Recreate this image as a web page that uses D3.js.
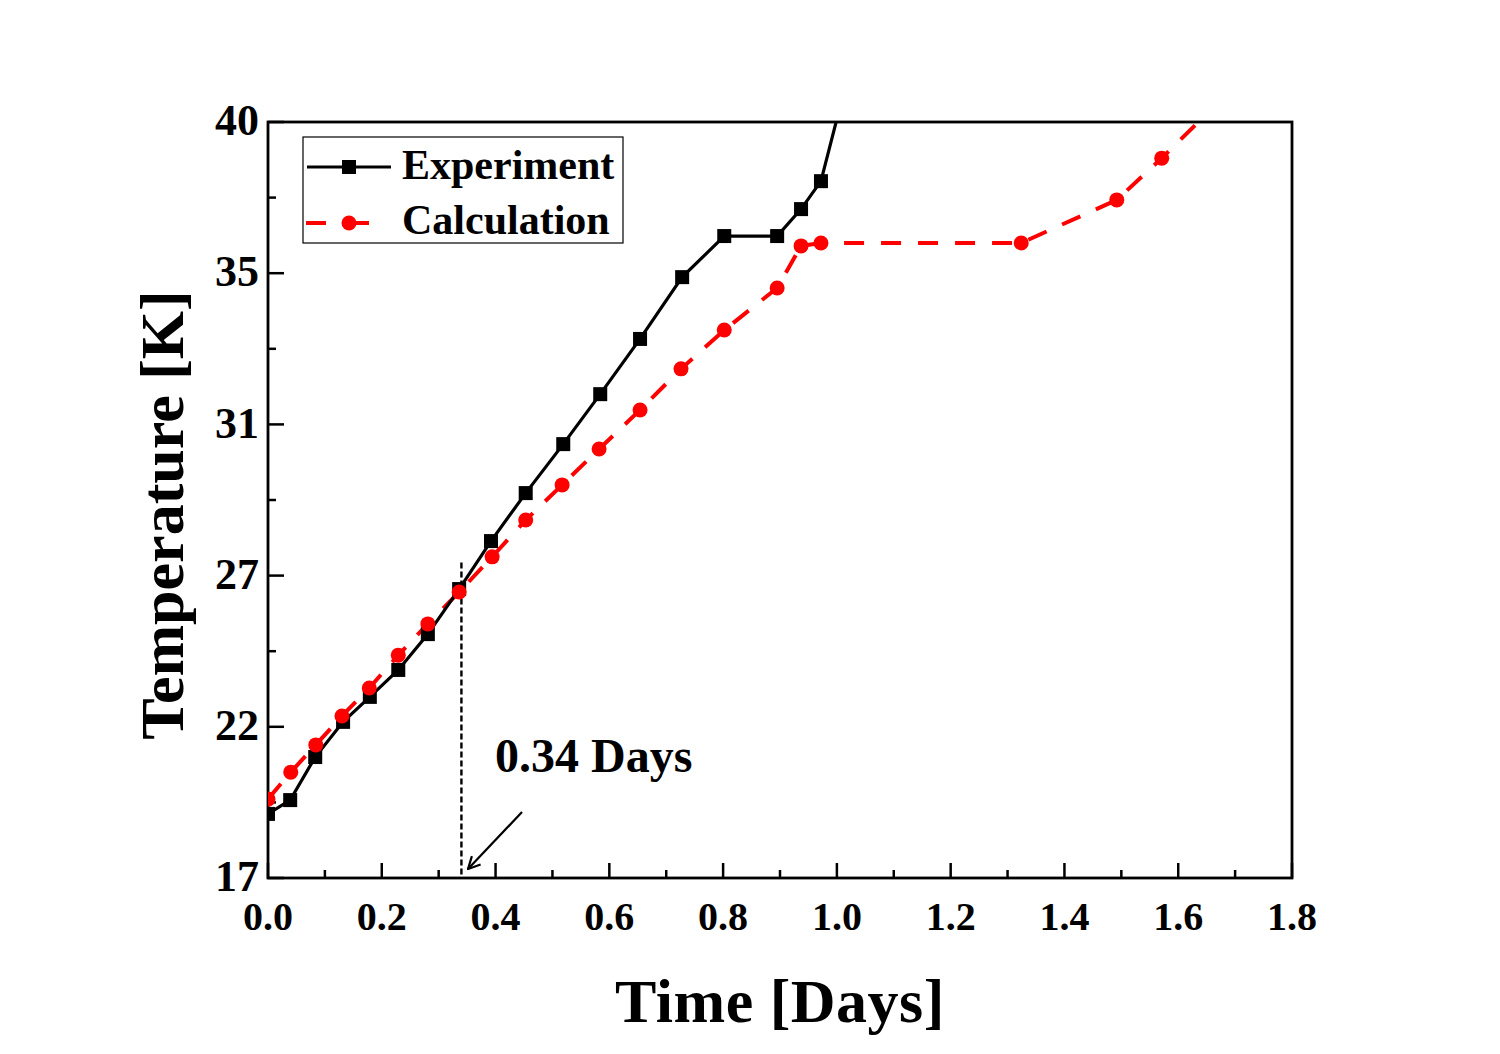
<!DOCTYPE html>
<html><head><meta charset="utf-8">
<script src="https://cdn.jsdelivr.net/npm/d3@7"></script>
<style>body{margin:0;background:#fff}svg{display:block}text{font-family:"Liberation Serif","Times New Roman",serif;font-weight:bold}</style>
</head><body>
<script>
// Data
const expTime = [0.0,0.039,0.083,0.132,0.179,0.229,0.281,0.336,0.392,0.453,0.519,0.584,0.654,0.728,0.802,0.895,0.937,0.972,1.012];
const expTemp = [18.95,19.37,20.68,21.75,22.51,23.33,24.42,25.79,27.25,28.71,30.20,31.72,33.40,35.28,36.53,36.53,37.35,38.20,40.9];
const calcTime = [0.0,0.040,0.084,0.130,0.178,0.229,0.281,0.336,0.394,0.453,0.517,0.582,0.654,0.726,0.802,0.895,0.937,0.972,1.324,1.492,1.571,1.665];
const calcTemp = [19.40,20.22,21.05,21.93,22.78,23.78,24.73,25.70,26.77,27.89,28.96,30.05,31.24,32.49,33.67,34.95,36.23,36.32,36.32,37.63,38.90,40.5];
const xTickValues = [0,0.2,0.4,0.6,0.8,1.0,1.2,1.4,1.6,1.8];
const xTickLabels = ["0.0","0.2","0.4","0.6","0.8","1.0","1.2","1.4","1.6","1.8"];
const yTickLabels = ["17","22","27","31","35","40"];
const seriesNames = ["Experiment","Calculation"];
const markerTime = 0.34;
const markerLabel = "0.34 Days";

const W=1500,H=1054;
const L=268,R=1292,T=122,B=878;
const svg=d3.select("body").append("svg").attr("width",W).attr("height",H);
const x=d3.scaleLinear().domain([0,1.8]).range([L,R]);
const y=d3.scaleLinear().domain([17,40]).range([B,T]);
const yTickValues=yTickLabels.map((d,i)=>17+i*(40-17)/(yTickLabels.length-1));

svg.append("defs").append("clipPath").attr("id","clip").append("rect")
  .attr("x",L).attr("y",T).attr("width",R-L).attr("height",B-T);

// minor ticks
const xMinor=d3.range(0.1,1.8,0.2);
const yMinor=yTickValues.slice(0,-1).map((d,i)=>(d+yTickValues[i+1])/2);
const tk=svg.append("g").attr("stroke","#000").attr("stroke-width",2.5);
xTickValues.forEach(v=>tk.append("line").attr("x1",x(v)).attr("x2",x(v)).attr("y1",B).attr("y2",B-15));
xMinor.forEach(v=>tk.append("line").attr("x1",x(v)).attr("x2",x(v)).attr("y1",B).attr("y2",B-8));
yTickValues.forEach(v=>tk.append("line").attr("y1",y(v)).attr("y2",y(v)).attr("x1",L).attr("x2",L+16));
yMinor.forEach(v=>tk.append("line").attr("y1",y(v)).attr("y2",y(v)).attr("x1",L).attr("x2",L+8));

// tick labels
svg.append("g").selectAll("text").data(xTickValues).join("text")
  .attr("x",d=>x(d)).attr("y",930).attr("text-anchor","middle").attr("font-size",40)
  .text((d,i)=>xTickLabels[i]);
svg.append("g").selectAll("text").data(yTickValues).join("text")
  .attr("x",L-9).attr("y",d=>y(d)).attr("dy","0.3em").attr("text-anchor","end").attr("font-size",44)
  .text((d,i)=>yTickLabels[i]);

// frame
svg.append("rect").attr("x",L).attr("y",T).attr("width",R-L).attr("height",B-T)
  .attr("fill","none").attr("stroke","#000").attr("stroke-width",2.8);

// axis titles
svg.append("text").attr("x",780).attr("y",1022).attr("text-anchor","middle").attr("font-size",62)
  .attr("letter-spacing",0.5).text("Time [Days]");
svg.append("text").attr("transform","translate(183,515) rotate(-90)").attr("text-anchor","middle")
  .attr("font-size",62).text("Temperature [K]");

// marker line and annotation
svg.append("line").attr("x1",x(markerTime)).attr("x2",x(markerTime))
  .attr("y1",y(26.6)).attr("y2",B).attr("stroke","#000").attr("stroke-width",2.4).attr("stroke-dasharray","6,3");
svg.append("text").attr("x",495).attr("y",772).attr("font-size",48).text(markerLabel);
svg.append("defs").append("marker").attr("id","arr").attr("viewBox","0 0 14 14").attr("refX",13).attr("refY",7)
  .attr("markerWidth",14).attr("markerHeight",14).attr("markerUnits","userSpaceOnUse").attr("orient","auto")
  .append("path").attr("d","M1,1 L13,7 L1,13").attr("fill","none").attr("stroke","#000").attr("stroke-width",2.2);
svg.append("line").attr("x1",522).attr("y1",812).attr("x2",468).attr("y2",869)
  .attr("stroke","#000").attr("stroke-width",2.2).attr("marker-end","url(#arr)");

// series
const g=svg.append("g").attr("clip-path","url(#clip)");
const line=d3.line();
const expPts=expTime.map((t,i)=>[x(t),y(expTemp[i])]);
const calcPts=calcTime.map((t,i)=>[x(t),y(calcTemp[i])]);
g.append("path").attr("d",line(calcPts)).attr("fill","none").attr("stroke","#ff0000")
  .attr("stroke-width",4).attr("stroke-dasharray","20,17");
g.append("path").attr("d",line(expPts)).attr("fill","none").attr("stroke","#000").attr("stroke-width",3.2);
g.selectAll("rect.m").data(expPts).join("rect").attr("class","m")
  .attr("x",d=>d[0]-7).attr("y",d=>d[1]-7).attr("width",14).attr("height",14).attr("fill","#000");
g.selectAll("circle.m").data(calcPts).join("circle").attr("class","m")
  .attr("cx",d=>d[0]).attr("cy",d=>d[1]).attr("r",7.5).attr("fill","#ff0000");

// legend
const lg=svg.append("g");
lg.append("rect").attr("x",303).attr("y",137).attr("width",320).attr("height",106)
  .attr("fill","#fff").attr("stroke","#000").attr("stroke-width",1.2);
lg.append("line").attr("x1",307).attr("x2",391).attr("y1",167).attr("y2",167).attr("stroke","#000").attr("stroke-width",3.2);
lg.append("rect").attr("x",342).attr("y",160).attr("width",14).attr("height",14).attr("fill","#000");
lg.append("line").attr("x1",306).attr("x2",392).attr("y1",223).attr("y2",223).attr("stroke","#ff0000")
  .attr("stroke-width",4).attr("stroke-dasharray","20,23");
lg.append("circle").attr("cx",349).attr("cy",223).attr("r",7.5).attr("fill","#ff0000");
lg.append("text").attr("x",402).attr("y",179).attr("font-size",42).text(seriesNames[0]);
lg.append("text").attr("x",402).attr("y",234).attr("font-size",42).text(seriesNames[1]);
</script>
</body></html>
